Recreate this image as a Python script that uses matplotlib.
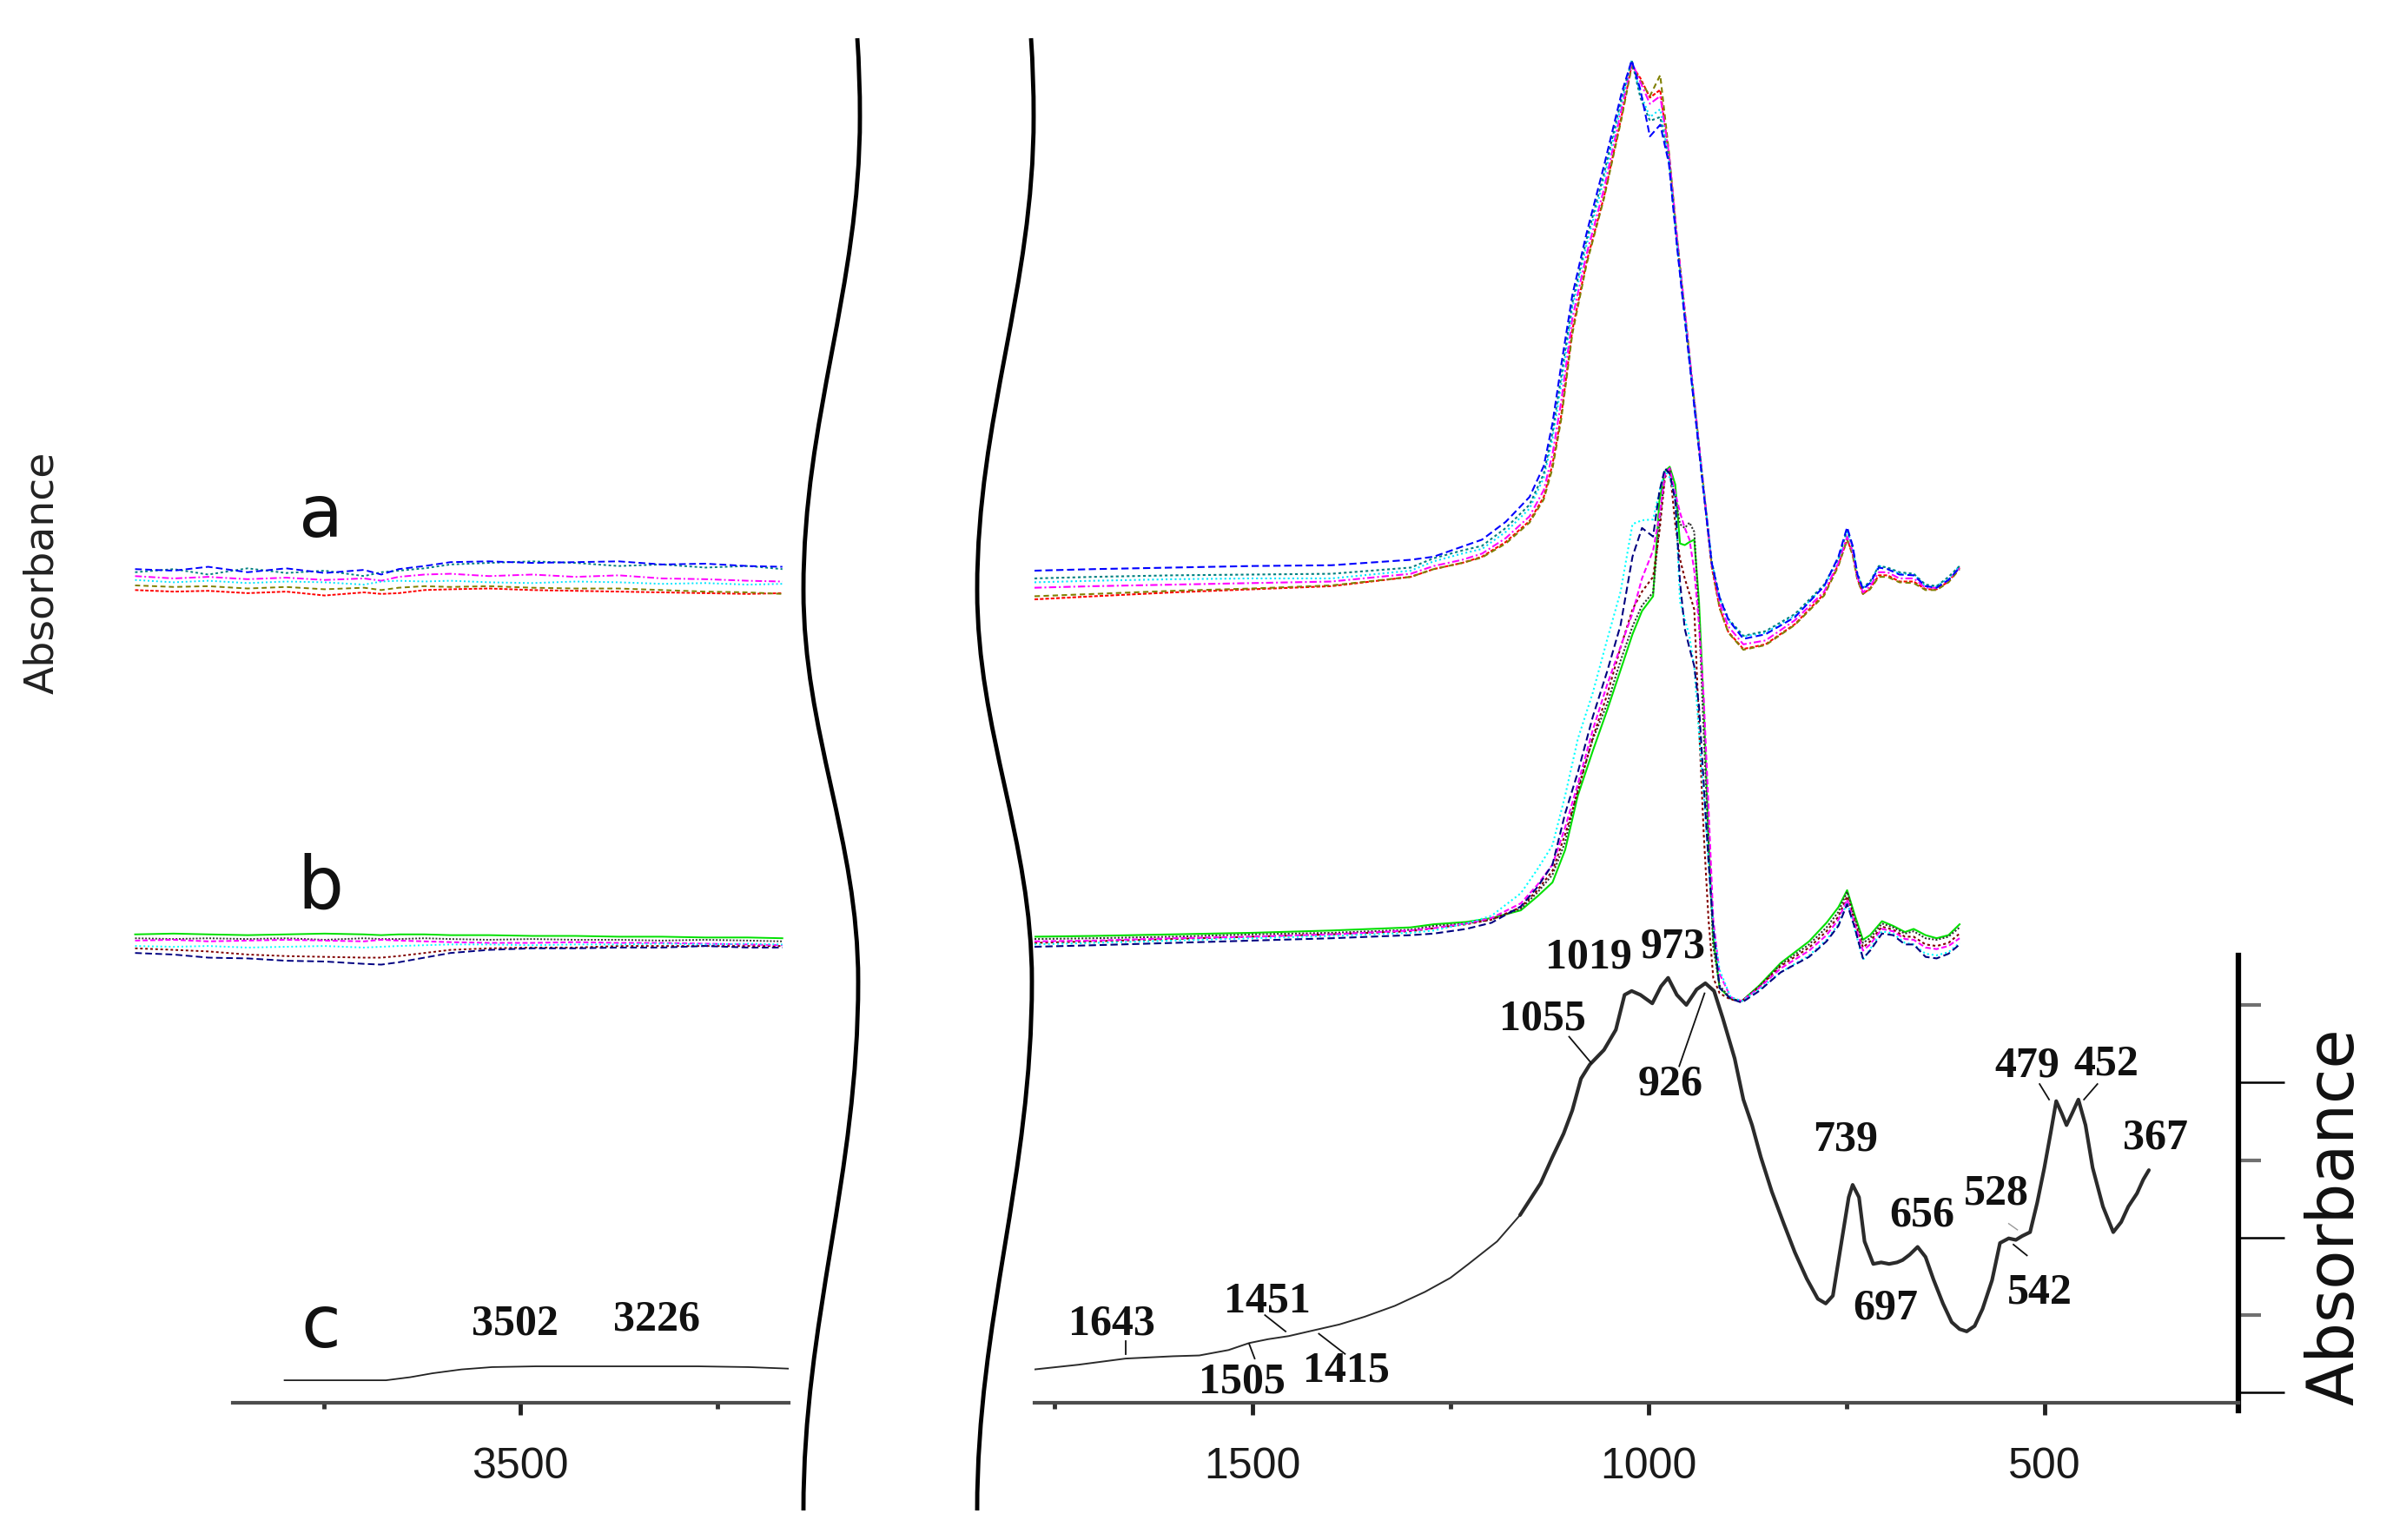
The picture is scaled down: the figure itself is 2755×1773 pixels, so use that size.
import matplotlib
matplotlib.use("Agg")
import matplotlib.pyplot as plt
from matplotlib.path import Path
from matplotlib.patches import PathPatch

# ------------------------------------------------------------
# Data (wavenumber in cm-1, absorbance in arbitrary units,
# spectra stacked with their own offsets)

# left window: 4000-3160 cm-1
wn_left = [3990, 3941, 3897, 3847, 3798, 3749, 3699, 3677, 3655, 3622,
           3589, 3540, 3485, 3430, 3375, 3320, 3265, 3211, 3167]

a_left_blue = [10.62, 10.60, 10.65, 10.58, 10.63, 10.57, 10.61, 10.55, 10.62, 10.66,
               10.71, 10.72, 10.70, 10.71, 10.72, 10.68, 10.69, 10.66, 10.65]
a_left_teal = [10.58, 10.62, 10.55, 10.63, 10.57, 10.60, 10.53, 10.58, 10.60, 10.63,
               10.68, 10.70, 10.72, 10.70, 10.66, 10.68, 10.64, 10.66, 10.62]
a_left_cyan = [10.48, 10.45, 10.47, 10.44, 10.46, 10.45, 10.42, 10.46, 10.47, 10.46,
               10.47, 10.45, 10.44, 10.46, 10.45, 10.43, 10.44, 10.42, 10.43]
a_left_magenta = [10.53, 10.50, 10.52, 10.49, 10.51, 10.48, 10.50, 10.47, 10.52, 10.55,
                  10.56, 10.53, 10.55, 10.52, 10.54, 10.50, 10.49, 10.47, 10.46]
a_left_red = [10.35, 10.33, 10.34, 10.31, 10.33, 10.28, 10.32, 10.30, 10.31, 10.35,
              10.36, 10.37, 10.35, 10.34, 10.33, 10.32, 10.31, 10.30, 10.31]
a_left_olive = [10.41, 10.39, 10.40, 10.37, 10.39, 10.36, 10.38, 10.35, 10.38, 10.40,
                10.39, 10.40, 10.38, 10.37, 10.37, 10.35, 10.33, 10.32, 10.30]

b_left_navy = [5.67, 5.65, 5.61, 5.60, 5.57, 5.56, 5.53, 5.52, 5.55, 5.61,
               5.67, 5.71, 5.73, 5.73, 5.74, 5.74, 5.76, 5.74, 5.74]
b_left_cyan = [5.76, 5.75, 5.76, 5.74, 5.75, 5.76, 5.74, 5.75, 5.76, 5.77,
               5.78, 5.78, 5.77, 5.78, 5.78, 5.79, 5.78, 5.79, 5.78]
b_left_magenta = [5.83, 5.84, 5.82, 5.83, 5.84, 5.83, 5.82, 5.84, 5.83, 5.82,
                  5.81, 5.80, 5.80, 5.81, 5.80, 5.80, 5.79, 5.78, 5.77]
b_left_maroon = [5.73, 5.71, 5.69, 5.65, 5.63, 5.62, 5.61, 5.61, 5.63, 5.67,
                 5.71, 5.73, 5.74, 5.74, 5.76, 5.76, 5.76, 5.76, 5.76]
b_left_black = [5.86, 5.85, 5.86, 5.85, 5.86, 5.84, 5.86, 5.85, 5.85, 5.86,
                5.85, 5.84, 5.85, 5.84, 5.84, 5.83, 5.84, 5.83, 5.82]
b_left_lime = [5.91, 5.92, 5.91, 5.90, 5.91, 5.92, 5.91, 5.90, 5.91, 5.91,
               5.90, 5.90, 5.89, 5.89, 5.88, 5.88, 5.87, 5.87, 5.86]

wn_c_left = [3800, 3700, 3671, 3640, 3612, 3575, 3536, 3480, 3401, 3330, 3275, 3210, 3159]
c_left = [0.16, 0.16, 0.16, 0.20, 0.25, 0.30, 0.33, 0.34, 0.34, 0.34, 0.34, 0.33, 0.31]

# right window: 1775-250 cm-1, spectra a
wn_a = [1775, 1700, 1600, 1500, 1400, 1300, 1271, 1235, 1210, 1180,
        1150, 1132, 1121, 1110, 1096, 1078, 1056, 1034, 1021, 1010,
        998, 985, 974, 964, 953, 942, 931, 920, 910, 899,
        880, 852, 815, 778, 760, 749, 742, 736, 729, 720,
        709, 698, 683, 665, 650, 636, 621, 607]

a_blue = [10.60, 10.62, 10.64, 10.66, 10.67, 10.74, 10.78, 10.91, 11.00, 11.23,
          11.55, 11.95, 12.50, 13.25, 14.15, 14.95, 15.82, 16.75, 17.18, 16.80,
          16.20, 16.35, 15.85, 14.80, 13.75, 12.72, 11.68, 10.70, 10.25, 9.97,
          9.72, 9.78, 10.00, 10.40, 10.78, 11.16, 10.92, 10.55, 10.36, 10.44,
          10.64, 10.62, 10.55, 10.54, 10.40, 10.38, 10.48, 10.64]
a_teal = [10.50, 10.52, 10.54, 10.55, 10.56, 10.64, 10.76, 10.86, 10.92, 11.15,
          11.45, 11.85, 12.38, 13.10, 14.05, 14.87, 15.72, 16.68, 17.18, 16.70,
          16.40, 16.45, 15.88, 14.83, 13.78, 12.74, 11.70, 10.72, 10.26, 9.98,
          9.76, 9.82, 10.04, 10.42, 10.76, 11.12, 10.90, 10.56, 10.38, 10.46,
          10.66, 10.64, 10.58, 10.56, 10.42, 10.40, 10.52, 10.66]
a_cyan = [10.45, 10.47, 10.49, 10.50, 10.50, 10.60, 10.72, 10.82, 10.88, 11.10,
          11.40, 11.80, 12.30, 13.00, 13.98, 14.80, 15.65, 16.62, 17.18, 16.75,
          16.45, 16.55, 15.90, 14.85, 13.80, 12.76, 11.72, 10.72, 10.25, 9.96,
          9.75, 9.80, 10.02, 10.40, 10.75, 11.12, 10.90, 10.55, 10.38, 10.45,
          10.66, 10.64, 10.56, 10.56, 10.40, 10.40, 10.50, 10.66]
a_magenta = [10.38, 10.40, 10.42, 10.44, 10.46, 10.56, 10.66, 10.74, 10.82, 11.02,
             11.30, 11.64, 12.10, 12.78, 13.85, 14.68, 15.52, 16.55, 17.16, 16.90,
             16.62, 16.72, 15.98, 14.92, 13.86, 12.80, 11.75, 10.70, 10.18, 9.88,
             9.65, 9.70, 9.96, 10.33, 10.70, 11.04, 10.85, 10.52, 10.32, 10.40,
             10.58, 10.58, 10.50, 10.50, 10.38, 10.38, 10.48, 10.64]
a_red = [10.23, 10.27, 10.32, 10.36, 10.40, 10.52, 10.62, 10.70, 10.78, 10.97,
         11.24, 11.55, 11.97, 12.60, 13.70, 14.58, 15.42, 16.45, 17.12, 16.95,
         16.70, 16.80, 15.95, 14.88, 13.82, 12.76, 11.71, 10.65, 10.12, 9.81,
         9.59, 9.65, 9.91, 10.30, 10.68, 11.00, 10.82, 10.50, 10.30, 10.37,
         10.54, 10.54, 10.46, 10.46, 10.36, 10.36, 10.46, 10.64]
a_olive = [10.27, 10.30, 10.34, 10.37, 10.41, 10.52, 10.62, 10.70, 10.77, 10.95,
           11.22, 11.52, 11.92, 12.55, 13.65, 14.55, 15.40, 16.42, 17.10, 16.92,
           16.72, 16.99, 16.00, 14.92, 13.86, 12.80, 11.75, 10.68, 10.12, 9.80,
           9.58, 9.64, 9.90, 10.28, 10.66, 11.00, 10.80, 10.48, 10.30, 10.36,
           10.52, 10.52, 10.45, 10.44, 10.35, 10.35, 10.45, 10.62]

# right window, spectra b
wn_b = [1775, 1700, 1600, 1500, 1400, 1300, 1271, 1230, 1198, 1161,
        1140, 1121, 1105, 1089, 1070, 1052, 1035, 1020, 1008, 994,
        986, 979, 973, 966, 960, 954, 948, 942, 936, 930,
        924, 918, 910, 896, 882, 860, 833, 797, 775, 760,
        749, 740, 729, 720, 705, 691, 676, 665, 650, 636,
        621, 607]

b_navy = [5.75, 5.77, 5.80, 5.83, 5.86, 5.90, 5.92, 5.98, 6.06, 6.27,
          6.52, 6.81, 7.47, 8.00, 8.72, 9.30, 9.90, 10.78, 11.15, 11.04,
          11.62, 11.92, 11.85, 11.50, 10.45, 9.85, 9.60, 9.37, 8.85, 7.85,
          6.85, 6.00, 5.22, 5.08, 5.03, 5.18, 5.42, 5.62, 5.82, 6.02,
          6.30, 6.02, 5.60, 5.70, 5.92, 5.90, 5.78, 5.78, 5.62, 5.60,
          5.66, 5.78]
b_cyan = [5.78, 5.80, 5.83, 5.86, 5.89, 5.93, 5.96, 6.05, 6.15, 6.44,
          6.75, 7.06, 7.70, 8.43, 9.03, 9.71, 10.33, 11.20, 11.25, 11.26,
          11.62, 11.89, 11.80, 11.55, 10.20, 9.98, 9.75, 9.35, 8.50, 7.70,
          6.85, 6.00, 5.45, 5.10, 5.05, 5.20, 5.42, 5.64, 5.84, 6.04,
          6.32, 6.00, 5.58, 5.72, 5.95, 5.92, 5.80, 5.78, 5.66, 5.64,
          5.68, 5.80]
b_magenta = [5.82, 5.83, 5.86, 5.88, 5.91, 5.96, 5.99, 6.05, 6.12, 6.31,
             6.55, 6.81, 7.29, 7.85, 8.55, 9.13, 9.62, 10.05, 10.50, 10.86,
             11.30, 11.85, 11.92, 11.60, 11.35, 11.15, 11.00, 10.60, 9.90, 8.95,
             7.55, 6.10, 5.40, 5.10, 5.05, 5.22, 5.47, 5.70, 5.90, 6.10,
             6.36, 6.06, 5.70, 5.78, 5.98, 5.95, 5.85, 5.84, 5.74, 5.72,
             5.76, 5.86]
b_maroon = [5.80, 5.82, 5.85, 5.88, 5.91, 5.95, 5.99, 6.04, 6.10, 6.26,
            6.48, 6.73, 7.20, 7.75, 8.45, 9.00, 9.61, 10.10, 10.33, 10.52,
            11.10, 11.80, 11.92, 11.20, 10.75, 10.50, 10.30, 10.10, 8.60, 7.20,
            6.10, 5.35, 5.15, 5.07, 5.05, 5.23, 5.50, 5.74, 5.95, 6.14,
            6.40, 6.10, 5.74, 5.82, 6.01, 5.97, 5.88, 5.88, 5.78, 5.76,
            5.80, 5.92]
b_black = [5.85, 5.86, 5.88, 5.91, 5.93, 5.97, 6.02, 6.05, 6.10, 6.24,
           6.45, 6.68, 7.10, 7.79, 8.43, 8.88, 9.44, 9.88, 10.15, 10.32,
           11.20, 11.85, 11.92, 11.55, 11.20, 11.15, 11.22, 11.10, 10.00, 8.50,
           7.10, 5.75, 5.25, 5.08, 5.05, 5.24, 5.52, 5.78, 6.00, 6.20,
           6.46, 6.14, 5.80, 5.86, 6.05, 6.00, 5.92, 5.95, 5.86, 5.84,
           5.88, 6.00]
b_lime = [5.88, 5.89, 5.91, 5.93, 5.96, 6.00, 6.04, 6.07, 6.12, 6.22,
          6.40, 6.58, 7.00, 7.70, 8.28, 8.80, 9.32, 9.78, 10.08, 10.27,
          11.50, 11.88, 11.94, 11.71, 10.95, 10.93, 10.97, 11.00, 10.20, 8.85,
          7.14, 5.85, 5.22, 5.08, 5.05, 5.25, 5.54, 5.82, 6.06, 6.26,
          6.48, 6.18, 5.84, 5.90, 6.08, 6.02, 5.94, 5.98, 5.90, 5.86,
          5.90, 6.04]

# right window, spectrum c
wn_c = [1775, 1720, 1660, 1600, 1567, 1530, 1504, 1480, 1454, 1420,
        1390, 1358, 1320, 1282, 1250, 1227, 1191, 1162, 1136, 1121,
        1107, 1096, 1085, 1074, 1056, 1041, 1030, 1021, 1010, 995,
        984, 975, 964, 952, 939, 928, 917, 906, 891, 880,
        869, 858, 844, 829, 815, 800, 786, 776, 767, 756,
        747, 742, 734, 727, 716, 706, 696, 686, 679, 670,
        660, 650, 640, 628, 617, 607, 598, 588, 578, 566,
        556, 545, 536, 528, 518, 509, 500, 492, 485, 478,
        472, 465, 457, 448, 439, 426, 413, 403, 394, 383,
        375, 368]
c_right = [0.30, 0.36, 0.44, 0.47, 0.48, 0.55, 0.64, 0.69, 0.73, 0.81,
           0.88, 0.98, 1.12, 1.30, 1.48, 1.66, 1.95, 2.29, 2.70, 3.04,
           3.34, 3.64, 4.05, 4.23, 4.42, 4.68, 5.13, 5.18, 5.13, 5.02,
           5.24, 5.35, 5.13, 5.00, 5.20, 5.28, 5.18, 4.83, 4.31, 3.78,
           3.45, 3.04, 2.59, 2.18, 1.81, 1.47, 1.21, 1.15, 1.25, 1.95,
           2.52, 2.68, 2.52, 1.95, 1.66, 1.68, 1.66, 1.68, 1.71, 1.78,
           1.88, 1.75, 1.46, 1.15, 0.91, 0.82, 0.79, 0.86, 1.08, 1.45,
           1.93, 1.99, 1.97, 2.02, 2.07, 2.45, 2.90, 3.35, 3.76, 3.60,
           3.45, 3.60, 3.78, 3.45, 2.90, 2.40, 2.07, 2.20, 2.40, 2.57,
           2.75, 2.87]

# band assignments written on spectrum c
band_labels = ["1643", "1451", "1505", "1415", "1055", "1019", "973", "926",
               "739", "697", "656", "528", "542", "479", "452", "367"]
band_label_wn = [1678, 1481, 1513, 1381, 1134, 1075, 969, 972,
                 751, 701, 654, 561, 506, 522, 422, 360]
band_label_y = [0.89, 1.19, 0.14, 0.29, 4.83, 5.62, 5.76, 3.99,
                3.27, 1.10, 2.29, 2.57, 1.30, 4.22, 4.24, 3.29]

# short leader lines from label to band: (wn0, y0, wn1, y1)
leaders = [(1660, 0.67, 1660, 0.50), (1484, 1.00, 1458, 0.79),
           (1504, 0.63, 1497, 0.44), (1416, 0.76, 1383, 0.50),
           (1100, 4.59, 1072, 4.25), (961, 4.21, 929, 5.15),
           (539, 1.91, 522, 1.77), (506, 3.98, 494, 3.78),
           (433, 3.98, 450, 3.78)]

left_labels = ["3502", "3226"]
left_label_wn = [3507, 3327]
left_label_y = [0.89, 0.95]

W, H = 2755, 1774
Y_MIN, Y_MAX = -0.13, 17.97

fig = plt.figure(figsize=(W / 100, H / 100), dpi=100)
ax_l = fig.add_axes([151 / W, 158 / H, 757 / W, 1616 / H])
ax_r = fig.add_axes([1191 / W, 158 / H, 1386 / W, 1616 / H])

serif = dict(family="Liberation Serif", fontweight="bold", fontsize=36, color="#111111")

# line styles of the individual runs (drawn bottom to top)
a_styles = [("#ff0000", (0, (2, 1))), ("#808000", (0, (3, 2))),
            ("#ff00ff", (0, (4, 1.5, 1, 1.5))), ("#00e5ff", (0, (1, 1.5))),
            ("#008080", (0, (1.5, 1.5))), ("#0000ff", (0, (4, 2)))]
b_styles = [("#00e000", "-"), ("#333333", (0, (1, 1))),
            ("#800000", (0, (1.5, 1.5))), ("#ff00ff", (0, (3, 1.5))),
            ("#00ffff", (0, (1, 1.5))), ("#000080", (0, (4, 2)))]

# ---- left window ----
a_left_runs = [a_left_red, a_left_olive, a_left_magenta, a_left_cyan, a_left_teal, a_left_blue]
b_left_runs = [b_left_lime, b_left_black, b_left_maroon, b_left_magenta, b_left_cyan, b_left_navy]
for vals, (col, ls) in zip(a_left_runs, a_styles):
    ax_l.plot(wn_left, vals, color=col, lw=1.4, ls=ls)
for vals, (col, ls) in zip(b_left_runs, b_styles):
    ax_l.plot(wn_left, vals, color=col, lw=1.4, ls=ls)
ax_l.plot(wn_c_left, c_left, color="#222222", lw=1.3)
for txt, x, y in zip(left_labels, left_label_wn, left_label_y):
    ax_l.text(x, y, txt, ha="center", va="center", **serif)

# curve letters
for txt, y in zip(["a", "b", "c"], [11.31, 6.52, 0.86]):
    ax_l.text(3754, y, txt, ha="center", va="center", fontsize=60,
              family="DejaVu Sans", color="#111111")

ax_l.set_xlim(3995, 3159)
ax_l.set_ylim(Y_MIN, Y_MAX)
ax_l.set_xticks([3500])
ax_l.set_xticks([3750, 3250], minor=True)
ax_l.spines["bottom"].set_bounds(3866, 3159)

# ---- right window ----
a_runs = [a_red, a_olive, a_magenta, a_cyan, a_teal, a_blue]
b_runs = [b_lime, b_black, b_maroon, b_magenta, b_cyan, b_navy]
for vals, (col, ls) in zip(a_runs, a_styles):
    ax_r.plot(wn_a, vals, color=col, lw=1.5, ls=ls)
for vals, (col, ls) in zip(b_runs, b_styles):
    ax_r.plot(wn_b, vals, color=col, lw=1.5, ls=ls)

# spectrum c: thin in the flat part, heavier from the silicate bands on
ax_r.plot(wn_c, c_right, color="#2b2b2b", lw=1.4)
thick = [i for i, w in enumerate(wn_c) if w <= 1162]
ax_r.plot([wn_c[i] for i in thick], [c_right[i] for i in thick],
          color="#2b2b2b", lw=3.0, solid_capstyle="round")

for txt, x, y in zip(band_labels, band_label_wn, band_label_y):
    ax_r.text(x, y, txt, ha="center", va="center", **serif)
for x0, y0, x1, y1 in leaders:
    ax_r.plot([x0, x1], [y0, y1], color="#111111", lw=1.3)
ax_r.plot([545, 534], [2.18, 2.10], color="#999999", lw=1.0)

ax_r.set_xlim(1775, 255)
ax_r.set_ylim(Y_MIN, Y_MAX)
ax_r.set_xticks([1500, 1000, 500])
ax_r.set_xticks([1750, 1250, 750], minor=True)
ax_r.yaxis.set_ticks_position("right")
ax_r.set_yticks([0, 2, 4])
ax_r.set_yticks([1, 3, 5], minor=True)
ax_r.spines["right"].set_visible(True)
ax_r.spines["right"].set_bounds(-0.23, 5.64)
ax_r.spines["right"].set_linewidth(4.5)
ax_r.spines["right"].set_color("black")
ax_r.tick_params(axis="y", which="major", direction="out", length=38, width=1.8,
                 color="black", labelright=False, labelleft=False)
ax_r.tick_params(axis="y", which="minor", direction="out", length=19, width=3,
                 color="#707070", labelright=False, labelleft=False)

# common axis styling
for ax in (ax_l, ax_r):
    ax.patch.set_alpha(0)
    for side in ("top", "left"):
        ax.spines[side].set_visible(False)
    ax.spines["bottom"].set_linewidth(3)
    ax.spines["bottom"].set_color("#4d4d4d")
    ax.tick_params(axis="x", which="major", direction="out", length=10, width=3.5,
                   color="#222222", pad=26, labelsize=36, labelcolor="#1a1a1a")
    ax.tick_params(axis="x", which="minor", direction="out", length=5, width=3.5,
                   color="#333333")
    for lab in ax.get_xticklabels():
        lab.set_family("Liberation Sans")
ax_l.spines["right"].set_visible(False)
ax_l.tick_params(axis="y", left=False, labelleft=False)

# axis titles
fig.text(49 / W, 1 - 659 / H, "Absorbance", rotation=90, ha="center", va="center",
         fontsize=34, family="DejaVu Sans", color="#222222")
fig.text(2689 / W, 1 - 1401 / H, "Absorbance", rotation=90, ha="center", va="center",
         fontsize=53, family="DejaVu Sans", color="#111111")

# wavy break marks between the two windows (pixel control points)
def break_path(dx):
    pts = [(987, 45), (989, 75), (990, 105), (990, 135),
           (990, 333), (925, 482), (925, 680),
           (925, 844), (988, 967), (988, 1131),
           (988, 1355), (925, 1521), (925, 1740)]
    verts = [((x + dx) / W, 1 - y / H) for x, y in pts]
    codes = [Path.MOVETO] + [Path.CURVE4] * 12
    return Path(verts, codes)

for dx in (0, 200):
    fig.add_artist(PathPatch(break_path(dx), fill=False, lw=3.5, edgecolor="black",
                             transform=fig.transFigure))

fig.savefig("out.png", dpi=100)
